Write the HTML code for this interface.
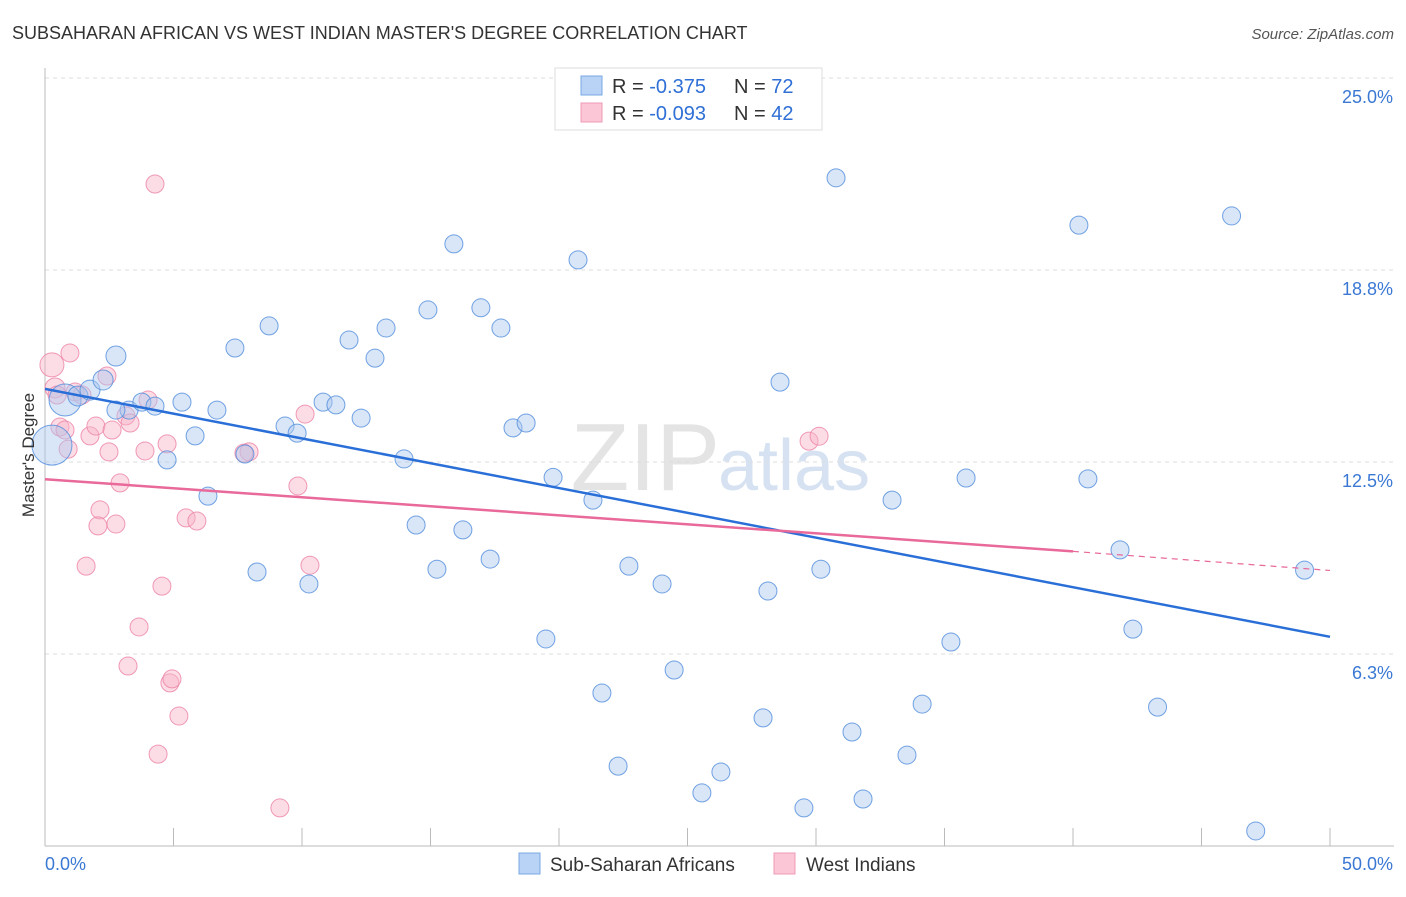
<!DOCTYPE html>
<html><head><meta charset="utf-8"><style>
body{margin:0;background:#fff;font-family:"Liberation Sans",sans-serif;}
svg text{font-family:"Liberation Sans",sans-serif;}
</style></head><body>
<svg id="c" width="1406" height="892" xmlns="http://www.w3.org/2000/svg">
<text x="12" y="39" font-size="18" fill="#333">SUBSAHARAN AFRICAN VS WEST INDIAN MASTER'S DEGREE CORRELATION CHART</text>
<text x="1394" y="39" font-size="15" fill="#555" font-style="italic" text-anchor="end">Source: ZipAtlas.com</text>
<text x="720" y="490" font-size="96" fill="#e4e4e4" text-anchor="end" font-family="Liberation Serif">ZIP</text>
<text x="718" y="490" font-size="72" fill="#d6e2f2">atlas</text>
<g id="grid"></g><g id="axes"></g><g id="pts"></g><g id="lines"></g>
<text x="34" y="455" font-size="17" fill="#333" transform="rotate(-90 34 455)" text-anchor="middle">Master's Degree</text>
<g>
<rect x="555" y="68" width="267" height="62" fill="#fff" stroke="#ddd"/>
<rect x="581" y="76" width="21" height="19" fill="#b8d3f5" stroke="#7aa8e6"/>
<rect x="581" y="103" width="21" height="19" fill="#fbc7d6" stroke="#f09ab5"/>
<text x="612" y="93" font-size="20" fill="#333">R = <tspan fill="#2f6fd6">-0.375</tspan><tspan x="734">N = </tspan><tspan fill="#2f6fd6">72</tspan></text>
<text x="612" y="120" font-size="20" fill="#333">R = <tspan fill="#2f6fd6">-0.093</tspan><tspan x="734">N = </tspan><tspan fill="#2f6fd6">42</tspan></text>
</g>
<g>
<rect x="519" y="853" width="21" height="21" fill="#b8d3f5" stroke="#7aa8e6"/>
<text x="550" y="871" font-size="19" fill="#333">Sub-Saharan Africans</text>
<rect x="774" y="853" width="21" height="21" fill="#fbc7d6" stroke="#f09ab5"/>
<text x="806" y="871" font-size="19" fill="#333">West Indians</text>
</g>
</svg>
<script>
const yTicks=[6.3,12.5,18.8,25.0];
const yTickVals=[6.25,12.5,18.75,25];
const xTickLabels=["0.0%","50.0%"];
const blueX=[0.27,0.78,1.28,1.75,2.26,2.76,3.27,3.77,4.28,4.75,5.33,5.84,6.34,6.69,7.39,7.78,8.25,8.72,9.34,9.81,10.27,10.82,11.32,11.83,12.30,12.84,13.27,13.97,14.44,14.90,15.25,15.91,16.26,16.96,17.32,17.74,18.21,18.72,19.49,19.77,20.51,20.74,21.32,21.67,22.30,22.72,24.01,24.48,25.56,26.30,27.94,28.13,28.60,29.53,30.19,30.78,31.40,31.83,32.96,33.54,34.13,35.25,35.84,40.23,40.58,41.83,42.33,43.29,46.17,47.11,49.01,2.76];
const blueY=[13.05,14.52,14.65,14.84,15.17,15.95,14.19,14.45,14.32,12.57,14.45,13.35,11.39,14.19,16.21,12.76,8.92,16.93,13.67,13.44,8.53,14.45,14.36,16.47,13.93,15.88,16.86,12.60,10.45,17.45,9.01,19.60,10.29,17.52,9.34,16.86,13.61,13.77,6.74,12.00,23.89,19.08,11.26,4.98,2.60,9.11,8.53,5.73,1.73,2.41,4.17,8.30,15.10,1.24,9.01,21.75,3.71,1.53,11.26,2.96,4.62,6.64,11.98,20.21,11.95,9.64,7.06,4.52,20.51,0.49,8.98,14.19];
const blueR=[20,16,10,10,10,10,9,9,9,9,9,9,9,9,9,9,9,9,9,9,9,9,9,9,9,9,9,9,9,9,9,9,9,9,9,9,9,9,9,9,9,9,9,9,9,9,9,9,9,9,9,9,9,9,9,9,9,9,9,9,9,9,9,9,9,9,9,9,9,9,9,9];
const pinkX=[0.27,0.39,0.47,0.58,0.78,0.90,0.97,1.17,1.44,1.60,1.75,1.98,2.14,2.06,2.41,2.49,2.61,2.76,2.92,3.15,3.23,3.31,3.66,3.89,4.01,4.28,4.55,4.75,4.86,4.94,5.21,5.49,5.91,4.40,7.94,7.74,9.14,9.84,10.12,10.31,29.73,30.12];
const pinkY=[15.66,14.91,14.68,13.64,13.54,12.92,16.05,14.78,14.68,9.11,13.35,13.67,10.94,10.42,15.30,12.83,13.54,10.48,11.82,14.00,5.86,13.77,7.13,12.86,14.52,21.55,8.46,13.09,5.31,5.44,4.23,10.68,10.58,2.99,12.83,12.79,1.24,11.72,14.06,9.14,13.18,13.34];
const pinkR=[12,10,9,9,9,9,9,9,9,9,9,9,9,9,9,9,9,9,9,9,9,9,9,9,9,9,9,9,9,9,9,9,9,9,9,9,9,9,9,9,9,9];
const blueLine=[14.88,6.81];
const pinkLineSolid=[11.94,9.59];
const pinkLineEnd=8.97;
const X=v=>45+v*25.7, Y=v=>846-v*30.72;
const NS="http://www.w3.org/2000/svg";
function mk(p,t,a){const e=document.createElementNS(NS,t);for(const k in a)e.setAttribute(k,a[k]);document.getElementById(p).appendChild(e);return e;}
yTickVals.forEach((v,i)=>{
 const g=mk('grid','line',{x1:45,x2:1394,y1:Y(v),y2:Y(v),stroke:'#ddd','stroke-dasharray':'4,4'});
 
 
 const t=mk('grid','text',{x:1393,y:Y(v)+25,'font-size':18,fill:'#3a78d4','text-anchor':'end'});
 t.textContent=yTicks[i].toFixed(1)+'%';
 
 
});
mk('axes','line',{x1:45,x2:45,y1:68,y2:846,stroke:'#bbb'});
mk('axes','line',{x1:45,x2:1394,y1:846,y2:846,stroke:'#bbb'});
for(let i=0;i<=10;i++){const l=mk('axes','line',{x1:X(i*5),x2:X(i*5),y1:828,y2:846,stroke:'#bbb'});
 
 }
const xl0=mk('axes','text',{x:45,y:870,'font-size':18,fill:'#3a78d4'});xl0.textContent=xTickLabels[0];


const xl1=mk('axes','text',{x:1393,y:870,'font-size':18,fill:'#3a78d4','text-anchor':'end'});xl1.textContent=xTickLabels[1];


pinkX.forEach((v,i)=>{const c=mk('pts','circle',{cx:X(v),cy:Y(pinkY[i]),r:pinkR[i],fill:'rgba(248,180,200,0.45)',stroke:'rgba(236,130,165,0.8)','stroke-width':1});
 
 });
blueX.forEach((v,i)=>{const c=mk('pts','circle',{cx:X(v),cy:Y(blueY[i]),r:blueR[i],fill:'rgba(170,200,240,0.45)',stroke:'rgba(80,140,220,0.8)','stroke-width':1});
 
 });
const bl=mk('lines','line',{x1:X(0),y1:Y(blueLine[0]),x2:X(50),y2:Y(blueLine[1]),stroke:'#2a6fd8','stroke-width':2.5});


const pl=mk('lines','line',{x1:X(0),y1:Y(pinkLineSolid[0]),x2:X(40),y2:Y(pinkLineSolid[1]),stroke:'#e8699a','stroke-width':2.5});


const pd=mk('lines','line',{x1:X(40),y1:Y(pinkLineSolid[1]),x2:X(50),y2:Y(pinkLineEnd),stroke:'#e8699a','stroke-width':1.2,'stroke-dasharray':'6,5'});


</script>
</body></html>
